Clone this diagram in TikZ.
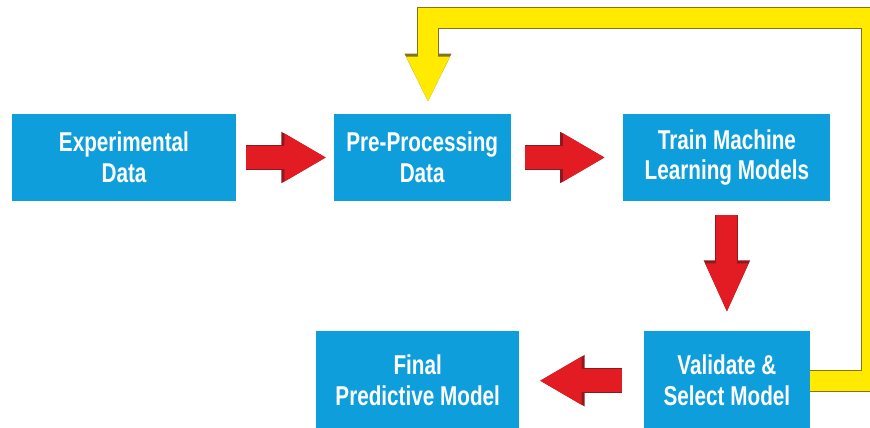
\documentclass[tikz,border=0pt]{standalone}
\usepackage{fontspec}
\newfontfamily\boxfont{Liberation Sans}[FakeStretch=0.76]
\usetikzlibrary{shapes, arrows.meta, positioning}
\definecolor{boxblue}{RGB}{14,158,219}
\definecolor{arrowred}{RGB}{227,27,35}
\definecolor{arrowredline}{RGB}{140,25,30}
\definecolor{loopyellow}{RGB}{255,234,0}
\definecolor{loopyellowline}{RGB}{130,115,30}
\tikzstyle{block} = [ rectangle, fill=boxblue, text=white, align=center, minimum height=1.74cm, inner sep=0pt, font=\boxfont\bfseries\fontsize{15.5}{17.6}\selectfont ]
\tikzstyle{fatline} = [ draw=arrowred, line width=0.46cm, -{Triangle[width=0.9cm, length=0.84cm]}, preaction={draw=arrowredline, line width=0.5cm, -{Triangle[width=0.96cm, length=0.9cm]}} ]
\tikzstyle{fatdown} = [ draw=arrowred, line width=0.42cm, -{Triangle[width=0.78cm, length=1cm]}, preaction={draw=arrowredline, line width=0.46cm, -{Triangle[width=0.84cm, length=1.06cm]}} ]
\tikzstyle{loopline} = [ draw=loopyellow, line width=0.4cm, miter limit=10, -{Triangle[width=0.8cm, length=0.92cm]}, preaction={draw=loopyellowline, line width=0.44cm, miter limit=10, -{Triangle[width=0.86cm, length=0.98cm]}} ]
\begin{document}
\begin{tikzpicture}
\useasboundingbox (0,0) rectangle (17.4,8.54);

% Work flow
\node [block, minimum width=4.48cm] at (2.48,5.39) (expdata) {Experimental\\Data};
\node [block, minimum width=3.54cm, right=1.94cm of expdata] (preproc) {Pre-Processing\\Data};
\node [block, minimum width=4.14cm, right=2.24cm of preproc] (train) {Train Machine\\Learning Models};
\node [block, minimum width=3.32cm, minimum height=2cm, below=2.58cm of train] (validate) {Validate \&\\Select Model};
\node [block, minimum width=4.06cm, minimum height=2cm, left=2.48cm of validate] (final) {Final\\Predictive Model};
\path [fatline, shorten <=0.2cm, shorten >=0.14cm] (expdata) -- (preproc) ;
\path [fatline, shorten <=0.28cm, shorten >=0.36cm] (preproc) -- (train) ;
\path [fatdown, shorten <=0.28cm, shorten >=0.34cm] (train) -- (validate) ;
\path [fatline, shorten <=0.44cm, shorten >=0.4cm] (validate) -- (final) ;

% Feedback loop
\coordinate (loopright) at (17.44,8.18);
\coordinate (loopleft) at (8.56,8.18);
\path [loopline, shorten >=0.22cm] (validate.east) -| (loopright) -- (loopleft) -- (loopleft |- preproc.north) ;
\end{tikzpicture}
\end{document}
